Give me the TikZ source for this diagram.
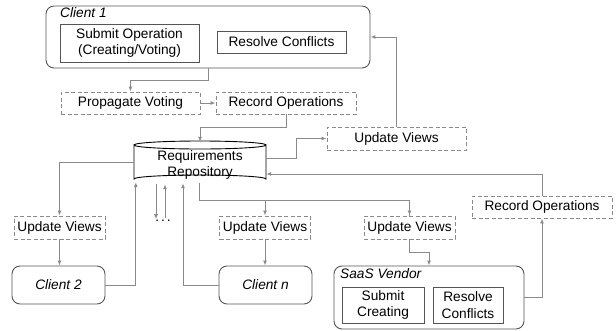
\documentclass[tikz,border=0pt]{standalone}
\usepackage{fontspec}
\setmainfont{Liberation Sans}
\usetikzlibrary{arrows.meta,calc}
\definecolor{conncol}{HTML}{8A8A8A}
\definecolor{boxcol}{HTML}{555555}
\tikzset{
  base/.style={inner sep=0pt, align=center, font=\fontsize{13.7}{16.5}\selectfont},
  outerbox/.style={base, draw=boxcol, line width=0.9pt, rounded corners=8pt},
  innerbox/.style={base, draw=boxcol, line width=0.9pt},
  dashbox/.style={base, draw=conncol, line width=0.9pt, dash pattern=on 4pt off 2.5pt},
  conn/.style={draw=conncol, line width=1pt, -{Latex[length=5pt,width=4pt]}},
  plain/.style={draw=conncol, line width=1pt},
  lbl/.style={base, anchor=north west, font=\fontsize{13.7}{16.5}\selectfont\itshape}
}
\begin{document}
\begin{tikzpicture}[x=1pt,y=-1pt]
\useasboundingbox (0,0) rectangle (616,330);
% Client 1
\node[outerbox, minimum width=324, minimum height=62] (c1) at (208,37) {};
\node[lbl] (c1l) at (60,7) {Client 1};
\node[innerbox, minimum width=139, minimum height=38] (sub) at (129.5,43) {Submit Operation\\(Creating/Voting)};
\node[innerbox, minimum width=129, minimum height=22] (res) at (281.5,42) {Resolve Conflicts};
% dashed row
\node[dashbox, minimum width=139, minimum height=22] (pv) at (130.5,103) {Propagate Voting};
\node[dashbox, minimum width=140, minimum height=22] (ro1) at (286,103) {Record Operations};
% repository
\node[base, minimum width=132, minimum height=42] (repo) at (200,162) {};
\draw[black, line width=0.9pt, fill=white]
  (134,145) -- (134,179) arc[start angle=180, end angle=360, x radius=66, y radius=4]
  -- (266,145) arc[start angle=0, end angle=180, x radius=66, y radius=4] -- cycle;
\draw[black, line width=0.9pt] (134,145) arc[start angle=180, end angle=360, x radius=66, y radius=4];
\node[base] (repot) at (200,165) {Requirements\\Repository};
% update views top right
\node[dashbox, minimum width=139, minimum height=23] (uv1) at (396.5,138.5) {Update Views};
\node[dashbox, minimum width=140, minimum height=22] (ro2) at (542,207) {Record Operations};
% bottom update views
\node[dashbox, minimum width=91, minimum height=23] (uvL) at (59.5,227.5) {Update Views};
\node[dashbox, minimum width=91, minimum height=23] (uvM) at (265,227.5) {Update Views};
\node[dashbox, minimum width=91, minimum height=23] (uvR) at (409.5,227.5) {Update Views};
% clients
\node[outerbox, minimum width=93, minimum height=38, font=\fontsize{13.7}{16.5}\selectfont\itshape] (c2) at (58.5,285) {Client 2};
\node[outerbox, minimum width=93, minimum height=38, font=\fontsize{13.7}{16.5}\selectfont\itshape] (cn) at (265.5,285) {Client n};
% SaaS vendor
\node[outerbox, minimum width=190, minimum height=63] (sv) at (429,297.5) {};
\node[lbl] (svl) at (340,268) {SaaS Vendor};
\node[innerbox, minimum width=82, minimum height=36] (sc) at (383,305) {Submit\\Creating};
\node[innerbox, minimum width=70, minimum height=36] (rc) at (468,305) {Resolve\\Conflicts};
\node[base] (dots) at (163,221) {.\kern2pt.\kern2pt.};
% connectors
\draw[conn] (c1.south) -- ++(0,12) -| (pv.north);
\draw[conn] (pv.east) -- (ro1.west);
\draw[conn] (ro1.south) -- ++(0,13) -| ($(repo.north)+(0,1)$);
\draw[conn] ($(repo.east)+(0,-4)$) -- ++(30,0) |- (uv1.west);
\draw[conn] (uv1.north) |- (c1.east);
\draw[conn] (ro2.north) |- ($(repo.east)+(0,12)$);
\draw[conn] (sv.east) -| (ro2.south);
\draw[plain] ($(repo.south)+(-1,0)$) -- ++(0,17) coordinate (bj) -| (uvR.north);
\draw[conn] (bj -| uvR.north) -- (uvR.north);
\draw[conn] (bj -| uvM.north) -- (uvM.north);
\draw[conn] (repo.west) -| (uvL.north);
\draw[conn] (uvL.south) -- (uvL.south |- c2.north);
\draw[conn] (c2.east) -| ($(repo.south west)+(2,-1)$);
\draw[conn] (cn.west) -| ($(repo.south)+(-17,0)$);
\draw[conn] ($(repo.south)+(-44,1)$) -- ++(0,35);
\draw[conn] ($(repo.south)+(-35,35)$) -- ++(0,-34);
\draw[conn] (uvM.south) -- (uvM.south |- cn.north);
\draw[conn] (uvR.south) -- ++(0,13) -| (sv.north);
\end{tikzpicture}
\end{document}
